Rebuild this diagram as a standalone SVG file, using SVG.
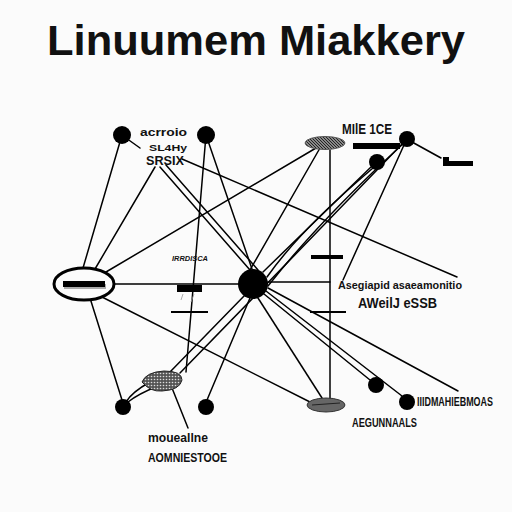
<svg xmlns="http://www.w3.org/2000/svg" width="512" height="512" viewBox="0 0 512 512">
<defs>
<style>
.c{stroke:#000;stroke-width:1.5;fill:none;stroke-linecap:round}
.n{fill:#000}
.t{font-family:"Liberation Sans",Arial,sans-serif;font-weight:bold;fill:#111}
.tn{font-family:"Liberation Sans Narrow","Liberation Sans",Arial,sans-serif;font-weight:bold;fill:#111}
</style>
<pattern id="hatch" width="3" height="3" patternUnits="userSpaceOnUse">
<rect width="3" height="3" fill="#888"/>
<path d="M0,0 L3,3" stroke="#222" stroke-width="1"/>
</pattern>
<pattern id="dots" width="3" height="3" patternUnits="userSpaceOnUse">
<rect width="3" height="3" fill="#555"/>
<circle cx="1.5" cy="1.5" r="0.8" fill="#ddd"/>
</pattern>
</defs>
<rect width="512" height="512" fill="#fbfbfb"/>
<text class="t" x="47" y="55" font-size="42" fill="#000" textLength="418" lengthAdjust="spacingAndGlyphs">Linuumem Miakkery</text>

<g id="connectors">
<line class="c" x1="122" y1="135" x2="83" y2="268"/>
<line class="c" x1="126" y1="138" x2="140" y2="148"/>
<line class="c" x1="155" y1="167" x2="95" y2="269"/>
<line class="c" x1="160" y1="167" x2="250" y2="270"/>
<line class="c" x1="166" y1="165" x2="258" y2="270"/>
<line class="c" x1="182" y1="159" x2="457" y2="277"/>
<line class="c" x1="206" y1="135" x2="186" y2="372"/>
<line class="c" x1="206" y1="135" x2="252" y2="269"/>
<line class="c" x1="106" y1="272" x2="316" y2="148"/>
<line class="c" x1="320" y1="148" x2="250" y2="270"/>
<line class="c" x1="330" y1="150" x2="330" y2="399"/>
<line class="c" x1="371" y1="167" x2="263" y2="272"/>
<path class="c" d="M373,168 Q300,230 267,277"/>
<path class="c" d="M404,143 Q320,220 268,286"/>
<line class="c" x1="404" y1="145" x2="343" y2="280"/>
<path class="c" d="M402,144 Q300,250 180,373"/>
<line class="c" x1="412" y1="142" x2="441" y2="158"/>
<line class="c" x1="113" y1="284" x2="240" y2="284"/>
<line class="c" x1="268" y1="282" x2="330" y2="282"/>
<line class="c" x1="245" y1="295" x2="170" y2="372"/>
<line class="c" x1="250" y1="298" x2="207" y2="400"/>
<line class="c" x1="258" y1="298" x2="322" y2="398"/>
<line class="c" x1="264" y1="294" x2="370" y2="380"/>
<line class="c" x1="266" y1="291" x2="402" y2="396"/>
<line class="c" x1="268" y1="288" x2="458" y2="391"/>
<line class="c" x1="90" y1="298" x2="122" y2="400"/>
<line class="c" x1="100" y1="296" x2="310" y2="402"/>
<line class="c" x1="172" y1="388" x2="188" y2="428"/>
<path class="c" d="M150,382 Q132,392 126,402"/>
<path class="c" d="M158,386 Q138,394 128,402" stroke-width="1"/>
</g>

<g id="nodeA"><circle class="n" cx="122" cy="135" r="9"/></g>
<g id="nodeB"><circle class="n" cx="206" cy="135" r="9"/></g>
<g id="nodeC"><circle class="n" cx="407" cy="139" r="8"/></g>
<g id="nodeD"><circle class="n" cx="377" cy="162" r="8"/></g>
<g id="hub"><circle class="n" cx="253" cy="284" r="15"/></g>
<g id="nodeE"><circle class="n" cx="123" cy="407" r="8"/></g>
<g id="nodeF"><circle class="n" cx="206" cy="407" r="8"/></g>
<g id="nodeG"><circle class="n" cx="376" cy="385" r="8"/></g>
<g id="nodeH"><circle class="n" cx="407" cy="402" r="8"/></g>

<g id="ellipseNode">
<ellipse cx="84" cy="284" rx="30" ry="16" fill="#fbfbfb" stroke="#000" stroke-width="3"/>
<rect x="64" y="284" width="42" height="5" fill="#aaa"/>
<rect x="63" y="281" width="42" height="6" fill="#000"/>
</g>

<g id="pillTop">
<ellipse cx="325" cy="143" rx="20" ry="6.5" fill="url(#hatch)" stroke="#555" stroke-width="1"/>
</g>
<g id="pillBottom">
<ellipse cx="326" cy="405" rx="19" ry="7" fill="#666" stroke="#333" stroke-width="1"/>
<path d="M312,405 L340,403" stroke="#222" stroke-width="1"/>
</g>
<g id="leaf">
<path d="M142,382 Q146,372 164,371 Q182,371 182,380 Q180,390 162,391 Q150,392 142,382 Z" fill="url(#dots)" stroke="#222" stroke-width="1"/>
</g>
<g id="scribble">
<text class="t" x="149" y="151" font-size="9" textLength="38" lengthAdjust="spacingAndGlyphs">SL4Hy</text>
<text class="t" x="146" y="165" font-size="12" textLength="38" lengthAdjust="spacingAndGlyphs">SRSIX</text>
</g>

<g id="bars">
<rect x="353" y="143" width="47" height="6" fill="#000"/>
<path d="M443,157 L443,166 L473,166 L473,161 L449,161 L449,157 Z" fill="#000"/>
<rect x="177" y="285" width="25" height="7" fill="#000"/>
<path d="M183,294 L181,300 M194,294 L191,302" stroke="#999" stroke-width="0.8"/>
<line x1="171" y1="312" x2="208" y2="312" stroke="#000" stroke-width="2"/>
<rect x="311" y="255" width="32" height="4" fill="#000"/>
<line x1="310" y1="312" x2="346" y2="312" stroke="#000" stroke-width="2"/>
</g>

<g id="labels">
<text class="t" x="140" y="136" font-size="11" textLength="47" lengthAdjust="spacingAndGlyphs">acrroio</text>
<text class="tn" x="342" y="134" font-size="14" textLength="50" lengthAdjust="spacingAndGlyphs">MIlE 1CE</text>
<text class="t" x="172" y="261" font-size="8" font-style="italic" textLength="36" lengthAdjust="spacingAndGlyphs">IRRDISCA</text>
<text class="t" x="338" y="289" font-size="10" textLength="124" lengthAdjust="spacingAndGlyphs">Asegiapid asaeamonitio</text>
<text class="t" x="358" y="308" font-size="14" textLength="79" lengthAdjust="spacingAndGlyphs">AWeilJ eSSB</text>
<text class="tn" x="148" y="442" font-size="13" textLength="60" lengthAdjust="spacingAndGlyphs">moueallne</text>
<text class="tn" x="148" y="462" font-size="13" textLength="79" lengthAdjust="spacingAndGlyphs">AOMNIESTOOE</text>
<text class="tn" x="417" y="406" font-size="13" textLength="76" lengthAdjust="spacingAndGlyphs">IIIDMAHIEBMOAS</text>
<text class="tn" x="352" y="427" font-size="13" textLength="65" lengthAdjust="spacingAndGlyphs">AEGUNNAALS</text>
</g>
</svg>
